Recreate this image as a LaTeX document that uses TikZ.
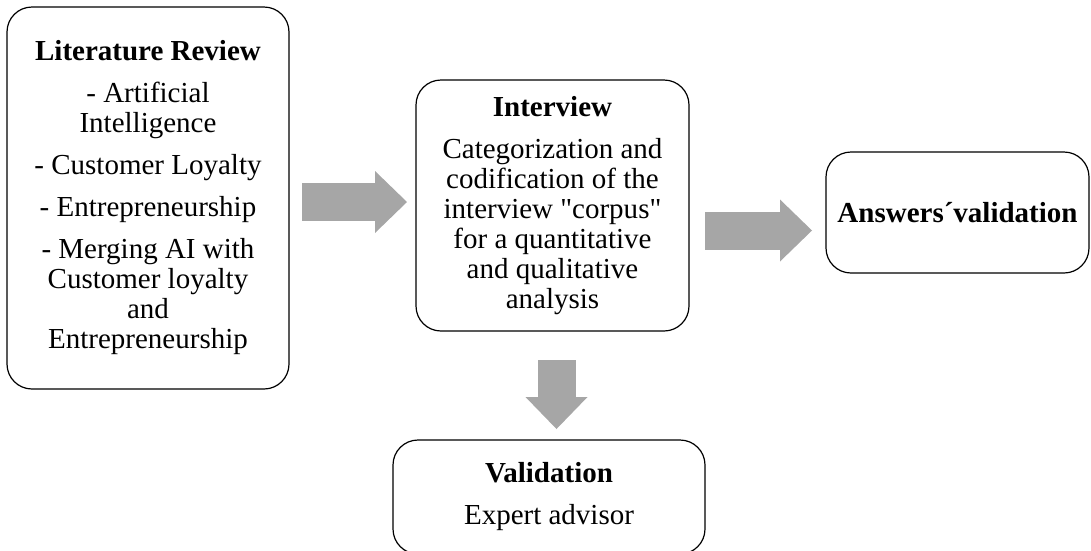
\documentclass[tikz,border=0pt]{standalone}
\usepackage{fontspec}
\setmainfont{Liberation Serif}[Ligatures=TeXOff]
\usetikzlibrary{arrows.meta,calc}
\definecolor{arrowgray}{RGB}{166,166,166}
\tikzset{
    box/.style = {draw, line width=1.2pt, rounded corners=25pt, align=center, inner sep=0pt, outer sep=0pt, font=\fontsize{29}{30}\selectfont},
    bigarrow/.style = {draw=arrowgray, line width=38pt, -{Triangle[length=32pt,width=62pt,line width=0pt]}}
}
\begin{document}
\begin{tikzpicture}[x=1pt,y=-1pt]
            \useasboundingbox (0,0) rectangle (1091,550);
            \node [box, minimum width=282, minimum height=382] (lit) at (148,198) {\textbf{Literature Review}\\[12pt] - Artificial\\ Intelligence\\[12pt] - Customer Loyalty\\[12pt] - Entrepreneurship\\[12pt] - Merging AI with\\ Customer loyalty\\ and\\ Entrepreneurship};
            \node [box, minimum width=273, minimum height=251] (int) at (552.5,205.5) {\textbf{Interview}\\[12pt] Categorization and\\ codification of the\\ interview "corpus"\\ for a quantitative\\ and qualitative\\ analysis};
            \node [box, minimum width=263, minimum height=121] (ans) at (957.5,212.5) {\textbf{Answers´validation}};
            \node [box, minimum width=312, minimum height=114] (val) at (549,497) {\textbf{Validation}\\[12pt] Expert advisor};
            \draw [bigarrow, shorten <=13pt, shorten >=9pt] ($(lit.east)+(0,4)$) -- ($(lit.east -| int.west)+(0,4)$);
            \draw [bigarrow, shorten <=16pt, shorten >=14pt] ($(int.east)+(0,25)$) -- ($(int.east -| ans.west)+(0,25)$);
            \draw [bigarrow, shorten <=29pt, shorten >=11pt] ($(int.south)+(4,0)$) -- ($(int.south |- val.north)+(4,0)$);
\end{tikzpicture}
\end{document}
